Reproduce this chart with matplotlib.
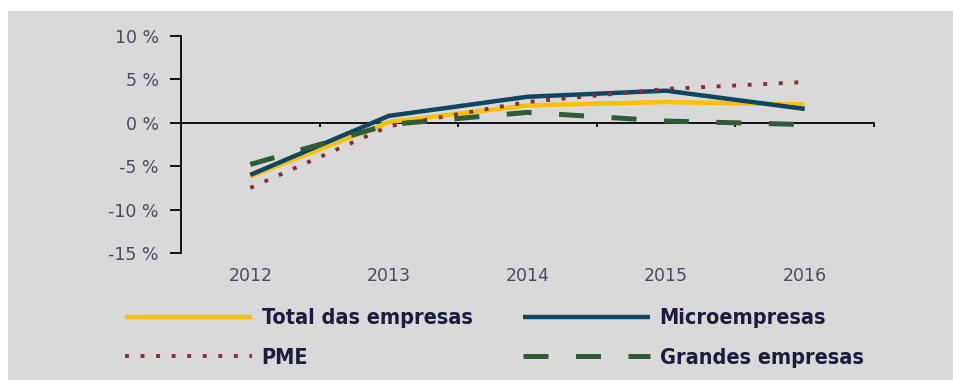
import matplotlib
matplotlib.use("Agg")
import matplotlib.pyplot as plt
from matplotlib.patches import Rectangle

# growth rates by company size, 2012-2016 (%)
years = ["2012", "2013", "2014", "2015", "2016"]
total = [-6.2, 0.1, 2.0, 2.4, 2.1]
micro = [-6.0, 0.8, 3.0, 3.7, 1.6]
pme = [-7.5, -0.4, 2.4, 3.9, 4.7]
grandes = [-4.8, -0.2, 1.2, 0.2, -0.2]

y_ticks = [10, 5, 0, -5, -10, -15]
y_labels = ["10 %", "5 %", "0 %", "-5 %", "-10 %", "-15 %"]

labels = ["Total das empresas", "Microempresas", "PME", "Grandes empresas"]

W, H = 954, 380
fig = plt.figure(figsize=(W / 100, H / 100), dpi=100, facecolor="white")
fig.patches.append(Rectangle((8 / W, 0), 1, 1 - 11 / H, transform=fig.transFigure,
                             facecolor="#d9d9d9", edgecolor="none", zorder=-5))

ax = fig.add_axes([181 / W, 1 - 253 / H, (874 - 181) / W, (253 - 36) / H])
ax.set_facecolor("none")
ax.set_zorder(2)

x = list(range(len(years)))
l_total, = ax.plot(x, total, color="#ffc000", lw=3.2, solid_capstyle="butt", zorder=3)
l_micro, = ax.plot(x, micro, color="#0c4663", lw=3.2, solid_capstyle="butt", zorder=4)
l_pme, = ax.plot(x, pme, color="#8e2b2e", lw=2.8, linestyle=(0, (1, 3.0)), zorder=5)
l_grandes, = ax.plot(x, grandes, color="#2f5b36", lw=3.6, linestyle=(0, (5, 5.5)), zorder=6)

ax.set_xlim(-0.5, len(years) - 0.5)
ax.set_ylim(-15, 10)

# axes: vertical on the left, horizontal through zero
for s in ["top", "right"]:
    ax.spines[s].set_visible(False)
ax.spines["left"].set_linewidth(1.3)
ax.spines["bottom"].set_linewidth(1.3)
ax.spines["bottom"].set_position(("data", 0))

tick_color = "#4a4a62"
ax.set_yticks(y_ticks)
ax.set_yticklabels(y_labels, fontsize=12.5, color=tick_color)
ax.tick_params(axis="y", direction="out", length=8, width=1.3, pad=8)

ax.set_xticks([i + 0.5 for i in x])
ax.set_xticklabels([])
ax.tick_params(axis="x", direction="out", length=3, width=1.3)

for i, yr in zip(x, years):
    ax.text(i, -0.106, yr, transform=ax.get_xaxis_transform(), ha="center", va="center",
            fontsize=12.5, color=tick_color)

fs = 15.5
leg_kw = dict(frameon=False, handlelength=5.9, handletextpad=0.45,
              borderpad=0, borderaxespad=0, labelspacing=0.9, loc="center left")
prop = dict(family="DejaVu Sans", weight="bold", stretch="condensed", size=fs)
leg1 = fig.legend([l_total, l_pme], [labels[0], labels[2]],
                  bbox_to_anchor=(125 / W, 1 - 338 / H), prop=prop, **leg_kw)
leg2 = fig.legend([l_micro, l_grandes], [labels[1], labels[3]],
                  bbox_to_anchor=(523 / W, 1 - 338 / H), prop=prop, **leg_kw)
for lg in (leg1, leg2):
    for t in lg.get_texts():
        t.set_color("#1c1c3c")

fig.savefig("out.png", dpi=100, facecolor=fig.get_facecolor())
